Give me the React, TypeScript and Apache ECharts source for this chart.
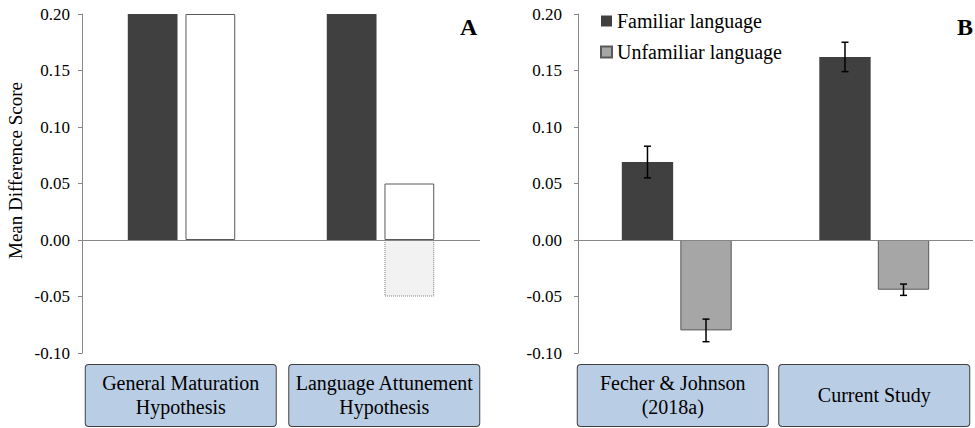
import React, { useEffect, useRef } from 'react';
import * as echarts from 'echarts';

const FONT = "'Liberation Serif', 'Times New Roman', serif";

// Panel A – hypotheses
const hypothesisCategories = ['General Maturation\nHypothesis', 'Language Attunement\nHypothesis'];
const hypothesisFamiliar = [0.2, 0.2];
const hypothesisUnfamiliar = [0.2, 0.05];
const hypothesisUnfamiliarAlt = [null, -0.05];

// Panel B – results
const studyCategories = ['Fecher & Johnson\n(2018a)', 'Current Study'];
const familiarMeans = [0.069, 0.162];
const familiarErrors = [0.014, 0.013];
const unfamiliarMeans = [-0.08, -0.044];
const unfamiliarErrors = [0.01, 0.005];

const Y_MIN = -0.1;
const Y_MAX = 0.2;
const Y_STEP = 0.05;

const DARK = '#404040';
const GREY = '#a6a6a6';
const AXIS = '#868686';

const BAR_W_B = 0.26;
const BAR_GAP_B = 0.14;

function barCategoryAxis(data: string[], gridIndex: number) {
  return {
    type: 'category',
    gridIndex,
    data,
    axisLine: { show: false, onZero: false },
    axisTick: { show: false },
    axisLabel: { show: false },
  };
}

function labelCategoryAxis(data: string[], gridIndex: number) {
  return {
    type: 'category',
    gridIndex,
    data,
    position: 'bottom',
    axisLine: { show: false, onZero: false },
    axisTick: { show: false },
    axisLabel: {
      interval: 0,
      margin: 12,
      color: '#000',
      fontFamily: FONT,
      fontSize: 20,
      lineHeight: 24,
      width: 190,
      padding: [6, 0, 7, 0],
      backgroundColor: '#b9cde5',
      borderColor: '#404040',
      borderWidth: 1,
      borderRadius: 3,
      align: 'center',
      formatter: (v: string) => (v.includes('\n') ? v : `{one|${v}}`),
      rich: {
        one: { fontFamily: FONT, fontSize: 20, lineHeight: 48, color: '#000' },
      },
    },
  };
}

function valueAxis(gridIndex: number, margin: number, name?: string) {
  return {
    type: 'value',
    gridIndex,
    min: Y_MIN,
    max: Y_MAX,
    interval: Y_STEP,
    name: name || '',
    nameLocation: 'middle',
    nameGap: 57,
    nameTextStyle: {
      fontFamily: FONT,
      fontSize: 19,
      color: '#000',
      padding: [0, 0, 0, 26],
    },
    axisLine: { show: true, lineStyle: { color: AXIS, width: 1 } },
    axisTick: { show: true, length: 4, lineStyle: { color: AXIS } },
    splitLine: { show: false },
    axisLabel: {
      margin,
      color: '#000',
      fontFamily: FONT,
      fontSize: 17,
      formatter: (v: number) => v.toFixed(2),
    },
  };
}

function hiddenValueAxis(gridIndex: number) {
  return { type: 'value', gridIndex, min: Y_MIN, max: Y_MAX, interval: Y_STEP, show: false };
}

const zeroLine = {
  silent: true,
  symbol: ['none', 'none'],
  label: { show: false },
  lineStyle: { color: AXIS, type: 'solid', width: 1 },
  data: [{ yAxis: 0 }],
};

function errorData(means: number[], errs: number[], side: number) {
  return means.map((m, i) => [i, m - errs[i], m + errs[i], side]);
}

const errorRender = (params: any, api: any) => {
  const cat = api.value(0);
  const lo = api.value(1);
  const hi = api.value(2);
  const side = api.value(3);
  const band = api.size([1, 0])[0];
  const bw = band * BAR_W_B;
  const gap = bw * BAR_GAP_B;
  const x = api.coord([cat, 0])[0] + (side * (bw + gap)) / 2;
  const yLo = api.coord([cat, lo])[1];
  const yHi = api.coord([cat, hi])[1];
  const cap = 3.5;
  const style = { stroke: '#000', lineWidth: 1.5 };
  return {
    type: 'group',
    children: [
      { type: 'line', shape: { x1: x, y1: yLo, x2: x, y2: yHi }, style },
      { type: 'line', shape: { x1: x - cap, y1: yLo, x2: x + cap, y2: yLo }, style },
      { type: 'line', shape: { x1: x - cap, y1: yHi, x2: x + cap, y2: yHi }, style },
    ],
  };
};

export default function App() {
  const ref = useRef<HTMLDivElement>(null);

  useEffect(() => {
    if (!ref.current) return;
    const chart = echarts.init(ref.current, undefined, { renderer: 'svg' });
    chart.setOption({
      animation: false,
      backgroundColor: '#fff',
      textStyle: { fontFamily: FONT },
      title: [
        {
          text: 'A',
          left: 455,
          top: 10,
          textStyle: { fontFamily: FONT, fontSize: 24, fontWeight: 'bold', color: '#000' },
        },
        {
          text: 'B',
          left: 952,
          top: 10,
          textStyle: { fontFamily: FONT, fontSize: 24, fontWeight: 'bold', color: '#000' },
        },
      ],
      legend: {
        data: ['Familiar language', 'Unfamiliar language'],
        orient: 'vertical',
        left: 595,
        top: 6,
        itemWidth: 11,
        itemHeight: 11,
        itemGap: 11,
        icon: 'rect',
        textStyle: { fontFamily: FONT, fontSize: 20, color: '#000' },
      },
      grid: [
        { left: 82, top: 14, width: 398, height: 339 },
        { left: 578, top: 14, width: 395, height: 339 },
        { left: 79, top: 14, width: 407, height: 339 },
        { left: 572, top: 14, width: 408, height: 339 },
      ],
      xAxis: [
        barCategoryAxis(hypothesisCategories, 0),
        barCategoryAxis(studyCategories, 1),
        labelCategoryAxis(hypothesisCategories, 2),
        labelCategoryAxis(studyCategories, 3),
      ],
      yAxis: [
        valueAxis(0, 12, 'Mean Difference Score'),
        valueAxis(1, 16),
        hiddenValueAxis(2),
        hiddenValueAxis(3),
      ],
      series: [
        {
          name: 'Hypothesis familiar',
          type: 'bar',
          xAxisIndex: 0,
          yAxisIndex: 0,
          data: hypothesisFamiliar,
          barWidth: '25%',
          barGap: '16%',
          itemStyle: { color: DARK },
          markLine: zeroLine,
        },
        {
          name: 'Hypothesis unfamiliar',
          type: 'bar',
          xAxisIndex: 0,
          yAxisIndex: 0,
          stack: 'unf',
          data: hypothesisUnfamiliar,
          barWidth: '25%',
          barGap: '16%',
          itemStyle: { color: '#fff', borderColor: '#595959', borderWidth: 1 },
        },
        {
          name: 'Hypothesis unfamiliar alternative',
          type: 'bar',
          xAxisIndex: 0,
          yAxisIndex: 0,
          stack: 'unf',
          data: hypothesisUnfamiliarAlt,
          barWidth: '25%',
          barGap: '16%',
          itemStyle: { color: '#f2f2f2', borderColor: '#7f7f7f', borderWidth: 1, borderType: 'dotted' },
        },
        {
          name: 'Familiar language',
          type: 'bar',
          xAxisIndex: 1,
          yAxisIndex: 1,
          data: familiarMeans,
          barWidth: `${BAR_W_B * 100}%`,
          barGap: `${BAR_GAP_B * 100}%`,
          itemStyle: { color: DARK },
          markLine: zeroLine,
        },
        {
          name: 'Unfamiliar language',
          type: 'bar',
          xAxisIndex: 1,
          yAxisIndex: 1,
          data: unfamiliarMeans,
          barWidth: `${BAR_W_B * 100}%`,
          barGap: `${BAR_GAP_B * 100}%`,
          itemStyle: { color: GREY, borderColor: '#595959', borderWidth: 1 },
        },
        {
          name: 'Familiar error',
          type: 'custom',
          xAxisIndex: 1,
          yAxisIndex: 1,
          z: 10,
          silent: true,
          renderItem: errorRender,
          encode: { x: 0, y: [1, 2] },
          data: errorData(familiarMeans, familiarErrors, -1),
        },
        {
          name: 'Unfamiliar error',
          type: 'custom',
          xAxisIndex: 1,
          yAxisIndex: 1,
          z: 10,
          silent: true,
          renderItem: errorRender,
          encode: { x: 0, y: [1, 2] },
          data: errorData(unfamiliarMeans, unfamiliarErrors, 1),
        },
      ],
    });
    return () => chart.dispose();
  }, []);

  return (
    <div
      ref={ref}
      style={{ position: 'fixed', left: 0, top: 0, width: 975, height: 428, background: '#fff' }}
    />
  );
}
